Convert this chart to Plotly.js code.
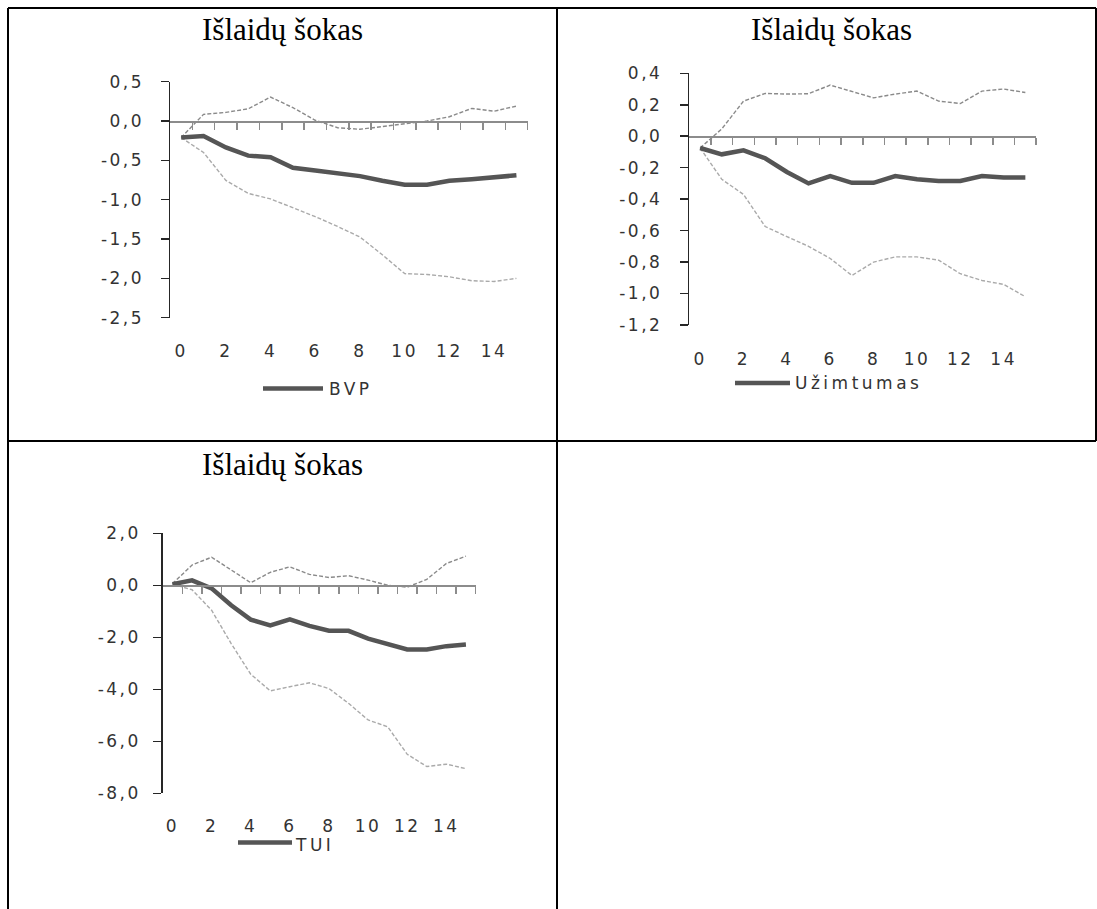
<!DOCTYPE html>
<html>
<head>
<meta charset="utf-8">
<script src="https://cdn.plot.ly/plotly-3.0.1.min.js"></script>
<style>
html, body { margin: 0; padding: 0; background: #ffffff; }
#chart { width: 1097px; height: 909px; }
.xtick text, .x2tick text, .x3tick text { letter-spacing: 2.5px; }
.ytick text, .y2tick text, .y3tick text { letter-spacing: 2.5px; }
.annotation[data-index="3"] text,
.annotation[data-index="4"] text,
.annotation[data-index="5"] text { letter-spacing: 3.5px; }
</style>
</head>
<body>
<div id="chart"></div>
<script>
// ---------- data ----------
const periods = [0, 1, 2, 3, 4, 5, 6, 7, 8, 9, 10, 11, 12, 13, 14, 15];

const bvp      = [-0.21, -0.19, -0.335, -0.44, -0.46, -0.595, -0.63, -0.67, -0.70, -0.76, -0.81, -0.81, -0.76, -0.74, -0.71, -0.69];
const bvpUpper = [-0.21, 0.085, 0.11, 0.155, 0.305, 0.17, 0.01, -0.085, -0.105, -0.07, -0.04, 0.0, 0.055, 0.16, 0.125, 0.19];
const bvpLower = [-0.21, -0.40, -0.755, -0.92, -0.99, -1.10, -1.215, -1.34, -1.475, -1.70, -1.94, -1.95, -1.98, -2.03, -2.04, -2.0];

const uzim      = [-0.075, -0.115, -0.09, -0.14, -0.227, -0.30, -0.253, -0.296, -0.296, -0.253, -0.274, -0.285, -0.285, -0.253, -0.263, -0.263];
const uzimUpper = [-0.075, 0.047, 0.223, 0.272, 0.268, 0.27, 0.325, 0.283, 0.244, 0.268, 0.287, 0.223, 0.208, 0.287, 0.30, 0.278];
const uzimLower = [-0.075, -0.274, -0.37, -0.574, -0.638, -0.70, -0.777, -0.885, -0.80, -0.767, -0.767, -0.788, -0.874, -0.917, -0.942, -1.02];

const tui      = [0.04, 0.19, -0.12, -0.77, -1.32, -1.54, -1.31, -1.56, -1.75, -1.75, -2.05, -2.27, -2.47, -2.47, -2.34, -2.28];
const tuiUpper = [0.06, 0.78, 1.08, 0.6, 0.1, 0.5, 0.71, 0.42, 0.3, 0.37, 0.2, 0.0, -0.07, 0.23, 0.84, 1.12];
const tuiLower = [0.04, -0.17, -0.96, -2.24, -3.42, -4.06, -3.9, -3.75, -3.97, -4.54, -5.18, -5.44, -6.5, -6.97, -6.88, -7.05];

const xTickVals = [0, 2, 4, 6, 8, 10, 12, 14];
const xTickText = ["0", "2", "4", "6", "8", "10", "12", "14"];
const xBoundaries = [0.5, 1.5, 2.5, 3.5, 4.5, 5.5, 6.5, 7.5, 8.5, 9.5, 10.5, 11.5, 12.5, 13.5, 14.5, 15.5];

const bvpYVals = [0.5, 0, -0.5, -1, -1.5, -2, -2.5];
const bvpYText = ["0,5", "0,0", "-0,5", "-1,0", "-1,5", "-2,0", "-2,5"];
const uzimYVals = [0.4, 0.2, 0, -0.2, -0.4, -0.6, -0.8, -1.0, -1.2];
const uzimYText = ["0,4", "0,2", "0,0", "-0,2", "-0,4", "-0,6", "-0,8", "-1,0", "-1,2"];
const tuiYVals = [2, 0, -2, -4, -6, -8];
const tuiYText = ["2,0", "0,0", "-2,0", "-4,0", "-6,0", "-8,0"];

const panelTitle = "Išlaidų šokas";
const seriesNames = ["BVP", "Užimtumas", "TUI"];

// ---------- geometry helpers ----------
const W = 1097, H = 909;
const px = p => p / W;
const py = p => 1 - p / H;

const MAIN = "#555555", UP = "#8a8a8a", LO = "#aaaaaa";
const AXIS = "#262626", ZERO = "#8c8c8c";
const tickFont = { family: "DejaVu Sans", size: 17, color: "#333333" };

function panel(n, xPix, yPixTop, yPixBot, yRange, yVals, yText, xStandoff, yStandoff) {
  const xs = n === 1 ? "" : String(n);
  const yDom = [py(yPixBot), py(yPixTop)];
  const zeroPos = yDom[0] + (0 - yRange[0]) / (yRange[1] - yRange[0]) * (yDom[1] - yDom[0]);
  const xa = {
    domain: [px(xPix[0]), px(xPix[1])],
    range: [-0.5, 15.5],
    anchor: "free",
    position: zeroPos,
    showline: true, linecolor: ZERO, linewidth: 1.5,
    showgrid: false, zeroline: false,
    tickmode: "array", tickvals: xTickVals, ticktext: xTickText,
    ticks: "", ticklabelstandoff: xStandoff,
    tickfont: tickFont,
    minor: { tickmode: "array", tickvals: xBoundaries, ticks: "outside", ticklen: 7, tickwidth: 1.5, tickcolor: ZERO, showgrid: false },
    fixedrange: true
  };
  const ya = {
    domain: yDom,
    range: yRange,
    anchor: "x" + xs,
    showline: true, linecolor: AXIS, linewidth: 1.5,
    showgrid: false, zeroline: false,
    tickmode: "array", tickvals: yVals, ticktext: yText,
    ticks: "outside", ticklen: 8, tickwidth: 1.5, tickcolor: AXIS,
    ticklabelstandoff: yStandoff,
    tickfont: tickFont,
    fixedrange: true
  };
  return { xa, ya, xs };
}

const p1 = panel(1, [170, 527.6], 81.7, 317.7, [-2.5, 0.5], bvpYVals, bvpYText, 214, 13);
const p2 = panel(2, [689.3, 1036.2], 73.3, 325, [-1.2, 0.4], uzimYVals, uzimYText, 207, 14);
const p3 = panel(3, [162.7, 475.7], 533.3, 793.3, [-8, 2], tuiYVals, tuiYText, 225, 9);

function traces(p, main, upper, lower, name) {
  const ax = { xaxis: "x" + p.xs, yaxis: "y" + p.xs, mode: "lines", hoverinfo: "skip", showlegend: false, x: periods };
  return [
    Object.assign({}, ax, { y: lower, name: name + " (apatinė riba)", line: { color: LO, width: 1.4, dash: "4px,2px" } }),
    Object.assign({}, ax, { y: upper, name: name + " (viršutinė riba)", line: { color: UP, width: 1.4, dash: "4px,2px" } }),
    Object.assign({}, ax, { y: main, name: name, line: { color: MAIN, width: 4.5 } })
  ];
}

const data = [].concat(
  traces(p1, bvp, bvpUpper, bvpLower, seriesNames[0]),
  traces(p2, uzim, uzimUpper, uzimLower, seriesNames[1]),
  traces(p3, tui, tuiUpper, tuiLower, seriesNames[2])
);

const titleFont = { family: "Liberation Serif", size: 31, color: "#000000" };
const legendFont = { family: "DejaVu Sans", size: 17, color: "#333333" };

function legendText(text, x, y) {
  return { text: text, x: px(x), y: py(y), xref: "paper", yref: "paper", xanchor: "left", yanchor: "middle", align: "left", showarrow: false, font: legendFont };
}

const annotations = [
  { text: panelTitle, x: px(282), y: py(30), xref: "paper", yref: "paper", xanchor: "center", yanchor: "middle", showarrow: false, font: titleFont },
  { text: panelTitle, x: px(831), y: py(30), xref: "paper", yref: "paper", xanchor: "center", yanchor: "middle", showarrow: false, font: titleFont },
  { text: panelTitle, x: px(282), y: py(464), xref: "paper", yref: "paper", xanchor: "center", yanchor: "middle", showarrow: false, font: titleFont },
  legendText(seriesNames[0], 327, 388.5),
  legendText(seriesNames[1], 793, 383),
  legendText(seriesNames[2], 293, 845)
];

function hline(x0, x1, y, color, width) {
  return { type: "line", xref: "paper", yref: "paper", x0: px(x0), x1: px(x1), y0: py(y), y1: py(y), line: { color: color, width: width } };
}
function vline(x, y0, y1, color, width) {
  return { type: "line", xref: "paper", yref: "paper", x0: px(x), x1: px(x), y0: py(y0), y1: py(y1), line: { color: color, width: width } };
}

const shapes = [
  // table borders
  hline(8, 1096, 8, "#000", 2),
  hline(8, 1096, 441, "#000", 2),
  vline(8, 8, 909, "#000", 2),
  vline(557, 8, 909, "#000", 2),
  vline(1096, 8, 441, "#000", 2),
  // legend samples
  hline(263, 323, 388.5, MAIN, 4.5),
  hline(735, 790, 383, MAIN, 4.5),
  hline(238, 292, 842.5, MAIN, 4.5)
];

const layout = {
  width: W, height: H,
  margin: { l: 0, r: 0, t: 0, b: 0, pad: 0 },
  paper_bgcolor: "#ffffff", plot_bgcolor: "rgba(0,0,0,0)",
  showlegend: false,
  xaxis: p1.xa, yaxis: p1.ya,
  xaxis2: p2.xa, yaxis2: p2.ya,
  xaxis3: p3.xa, yaxis3: p3.ya,
  annotations: annotations,
  shapes: shapes
};

Plotly.newPlot("chart", data, layout, { staticPlot: true, displayModeBar: false });
</script>
</body>
</html>
